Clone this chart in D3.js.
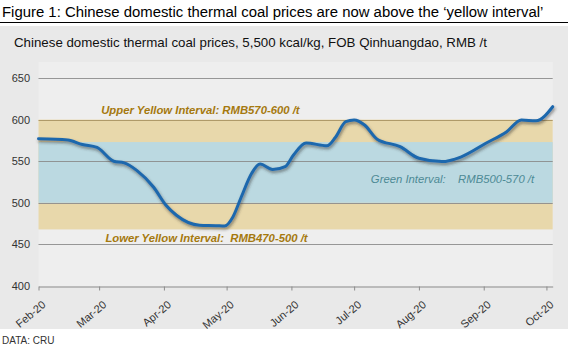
<!DOCTYPE html>
<html><head><meta charset="utf-8">
<script src="https://cdn.jsdelivr.net/npm/d3@7"></script>
<style>body{margin:0;background:#fff}svg{display:block;font-family:"Liberation Sans",Arial,sans-serif}</style>
</head><body><svg id="c" width="576" height="347"></svg>
<script>
const dates = ["2020-02-01","2020-02-15","2020-02-22","2020-02-29","2020-03-08","2020-03-13","2020-03-19","2020-03-27","2020-04-02","2020-04-07","2020-04-18","2020-04-26","2020-04-30","2020-05-04","2020-05-08","2020-05-13","2020-05-17","2020-05-23","2020-05-29","2020-06-02","2020-06-08","2020-06-18","2020-06-22","2020-06-27","2020-07-01","2020-07-06","2020-07-12","2020-07-23","2020-08-01","2020-08-12","2020-08-21","2020-09-02","2020-09-12","2020-09-19","2020-09-26","2020-10-04"];
const prices = [577,575.5,570,566.5,550,548,539,519,497,485,473,472.5,472,483,507,535.5,546.5,540,543.5,557.5,572,568.5,578.5,597.5,599.5,593.5,576.5,567.5,553.5,549.5,555,571.5,585.5,599.5,598.5,615.5];
const tickMonths = ["2020-02-01","2020-03-01","2020-04-01","2020-05-01","2020-06-01","2020-07-01","2020-08-01","2020-09-01","2020-10-01"];
const tickLabels = ["Feb-20","Mar-20","Apr-20","May-20","Jun-20","Jul-20","Aug-20","Sep-20","Oct-20"];
const yTicks = [400,450,500,550,600,650];
const bands = [{lo:468,hi:600,color:"#e8d8ab"},{lo:500,hi:573,color:"#bbd9e1"}];
const bandLabels = [
  {text:"Upper Yellow Interval: RMB570-600 /t", date:"2020-03-02", v:606.5, color:"#a5790f", bold:true},
  {text:"Lower Yellow Interval:  RMB470-500 /t", date:"2020-03-04", v:453, color:"#a5790f", bold:true},
  {text:"Green Interval:    RMB500-570 /t", date:"2020-07-09", v:524, color:"#4d8a95", bold:false}
];

const parse = d3.timeParse("%Y-%m-%d");
const svg = d3.select("#c");
const x = d3.scaleTime().domain([parse("2020-02-01"), parse("2020-10-04")]).range([38.5, 552.7]);
const y = d3.scaleLinear().domain([400,650]).range([286,78]);

// title
svg.append("text").attr("x",2).attr("y",17).attr("font-size",14.9).attr("fill","#000")
  .text("Figure 1: Chinese domestic thermal coal prices are now above the \u2018yellow interval\u2019");
svg.append("line").attr("x1",0).attr("x2",568).attr("y1",22.5).attr("y2",22.5).attr("stroke","#000").attr("stroke-width",1);
// panel
svg.append("rect").attr("x",0).attr("y",26).attr("width",568).attr("height",303).attr("fill","#e9e9e9");
svg.append("text").attr("x",14).attr("y",47).attr("font-size",13.3).attr("fill","#111")
  .text("Chinese domestic thermal coal prices, 5,500 kcal/kg, FOB Qinhuangdao, RMB /t");
// plot area
svg.append("rect").attr("x",x.range()[0]).attr("y",62).attr("width",x.range()[1]-x.range()[0]).attr("height",286-62).attr("fill","#eeeeee");

// bands
svg.selectAll("rect.band").data(bands).join("rect").attr("class","band")
  .attr("x",x.range()[0]).attr("width",x.range()[1]-x.range()[0])
  .attr("y",d=>y(d.hi)).attr("height",d=>y(d.lo)-y(d.hi)).attr("fill",d=>d.color);

// gridlines
svg.append("g").selectAll("line").data(yTicks.filter(t=>t>400)).join("line")
  .attr("x1",x.range()[0]).attr("x2",x.range()[1]).attr("y1",d=>Math.round(y(d))+0.5).attr("y2",d=>Math.round(y(d))+0.5)
  .attr("stroke",d=>d===600?"#a89462":"#8c8c8c").attr("stroke-width",1).attr("stroke-opacity",0.9);

// y labels
svg.append("g").selectAll("text").data(yTicks).join("text")
  .attr("x",30).attr("y",d=>y(d)+4).attr("text-anchor","end").attr("font-size",11).attr("fill","#333").text(d=>d);

// x axis
const xa = svg.append("g").attr("transform",`translate(0,${Math.round(y(400))+0.5})`)
  .call(d3.axisBottom(x).tickValues(tickMonths.map(parse)).tickSize(4).tickSizeOuter(0).tickFormat((d,i)=>tickLabels[i]));
xa.select(".domain").attr("stroke","#8c8c8c");
xa.selectAll(".tick line").attr("stroke","#8c8c8c");
xa.selectAll(".tick text").attr("font-size",11).attr("fill","#333").attr("font-family","Liberation Sans, Arial, sans-serif")
  .attr("text-anchor","end").attr("dy",0).attr("transform","translate(3,14) rotate(-40)");

// band labels
svg.append("g").selectAll("text").data(bandLabels).join("text")
  .attr("x",d=>x(parse(d.date))).attr("y",d=>y(d.v)).attr("font-size",11.3).attr("font-style","italic")
  .attr("font-weight",d=>d.bold?"bold":"normal").attr("fill",d=>d.color).attr("xml:space","preserve").style("white-space","pre").text(d=>d.text);

// line with shadow
const defs = svg.append("defs");
const f = defs.append("filter").attr("id","sh").attr("x","-10%").attr("y","-10%").attr("width","120%").attr("height","130%");
f.append("feDropShadow").attr("dx",1).attr("dy",2).attr("stdDeviation",1.6).attr("flood-color","#333").attr("flood-opacity",0.55);
const data = dates.map((d,i)=>({d:parse(d),v:prices[i]}));
const line = d3.line().x(d=>x(d.d)).y(d=>y(d.v)).curve(d3.curveMonotoneX);
svg.append("path").datum(data).attr("d",line).attr("fill","none").attr("stroke","#1d67ad").attr("stroke-width",3)
  .attr("stroke-linejoin","round").attr("stroke-linecap","round").attr("filter","url(#sh)");

// source
svg.append("text").attr("x",2).attr("y",344).attr("font-size",10).attr("fill","#333").text("DATA: CRU");
</script></body></html>
